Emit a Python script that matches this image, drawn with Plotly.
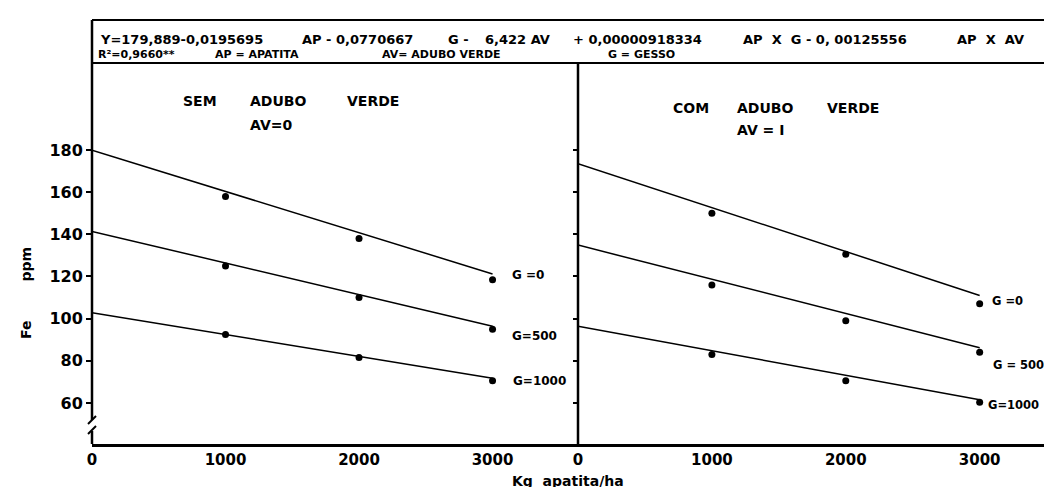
import plotly.graph_objects as go

W, H = 1052, 487
L, R, T, B = 84, 0, 12, 51

# apatita doses (kg/ha)
ap = [1000, 2000, 3000]
ap_line = [0, 3000]
x_ticks = [0, 1000, 2000, 3000]
y_ticks = [60, 80, 100, 120, 140, 160, 180]

# sem adubo verde (AV = 0): observed points and fitted lines
sem_g0 = [158, 138, 118.5]
sem_g500 = [125, 110, 95]
sem_g1000 = [92.5, 81.5, 70.5]
sem_fit_g0 = [179.9, 121.2]
sem_fit_g500 = [141.4, 96.4]
sem_fit_g1000 = [102.8, 71.7]

# com adubo verde (AV = 1)
com_g0 = [150, 130.5, 107]
com_g500 = [116, 99, 84]
com_g1000 = [83, 70.5, 60.3]
com_fit_g0 = [173.5, 111.0]
com_fit_g500 = [134.9, 86.2]
com_fit_g1000 = [96.4, 61.5]

FONT = "DejaVu Sans"


def px(x, y):
    # pixel position -> paper coords
    return (x - L) / (W - L - R), (H - B - y) / (H - T - B)


def label(text, x, y, size=13, xanchor="left", **kw):
    xp, yp = px(x, y)
    return dict(text=text, x=xp, y=yp, xref="paper", yref="paper",
                xanchor=xanchor, yanchor="middle", showarrow=False,
                font=dict(family=FONT, size=size, color="black", weight="bold"), **kw)


def seg(x0, y0, x1, y1, w=2.5):
    a, b = px(x0, y0)
    c, d = px(x1, y1)
    return dict(type="line", xref="paper", yref="paper", x0=a, y0=b, x1=c, y1=d,
                line=dict(color="black", width=w))


fig = go.Figure()

panels = [
    ("x", "y", [sem_fit_g0, sem_fit_g500, sem_fit_g1000], [sem_g0, sem_g500, sem_g1000]),
    ("x2", "y2", [com_fit_g0, com_fit_g500, com_fit_g1000], [com_g0, com_g500, com_g1000]),
]
for xa, ya, fits, obs in panels:
    for fit in fits:
        fig.add_trace(go.Scatter(x=ap_line, y=fit, mode="lines", xaxis=xa, yaxis=ya,
                                 line=dict(color="black", width=1.5)))
    for o in obs:
        fig.add_trace(go.Scatter(x=ap, y=o, mode="markers", xaxis=xa, yaxis=ya,
                                 marker=dict(color="black", size=7)))

tickfont = dict(family=FONT, size=15, color="black", weight="bold")
xcommon = dict(range=[0, 3640], tickvals=x_ticks, showgrid=False, zeroline=False,
               showline=True, linecolor="black", linewidth=2.5, ticks="",
               tickfont=tickfont, automargin=False)
ycommon = dict(range=[40.5, 241.7], tickvals=y_ticks, showgrid=False, zeroline=False,
               showline=False, ticks="outside", ticklen=5, tickwidth=2, tickcolor="black",
               automargin=False)

fig.update_layout(
    width=W, height=H,
    margin=dict(l=L, r=R, t=T, b=B),
    plot_bgcolor="white", paper_bgcolor="white",
    showlegend=False, hovermode=False,
    xaxis=dict(domain=[0, px(570, 0)[0]], anchor="y", **xcommon),
    xaxis2=dict(domain=[px(570, 0)[0], 1], anchor="y2", **{**xcommon, "range": [0, 3600]}),
    yaxis=dict(anchor="x", tickfont=dict(family=FONT, size=16, color="black", weight="bold"),
               **ycommon),
    yaxis2=dict(anchor="x2", matches="y", showticklabels=False, **{**ycommon, "ticklen": 4}),
)

shapes = [
    seg(84, 12, 1052, 12, 2),
    seg(84, 55, 1052, 55, 2),
    seg(84, 12, 84, 412),
    seg(84, 423, 84, 436),
    seg(80, 416, 88, 408, 2),
    seg(80, 426, 88, 418, 2),
    seg(570, 55, 570, 436),
]
fig.update_layout(shapes=shapes)

annotations = [
    # regression header
    label("Y=179,889-0,0195695", 90, 32, 13),
    label("AP - 0,0770667", 292, 32, 13),
    label("G -", 438, 32, 13),
    label("6,422 AV", 475, 32, 13),
    label("+ 0,00000918334", 563, 32, 13),
    label("AP  X  G - 0, 00125556", 733, 32, 13),
    label("AP  X  AV", 947, 32, 13),
    label("R\u00b2=0,9660**", 88, 46, 11),
    label("AP = APATITA", 205, 46, 11),
    label("AV= ADUBO VERDE", 372, 46, 11),
    label("G = GESSO", 598, 46, 11),
    # panel titles
    label("SEM", 173, 93, 14),
    label("ADUBO", 240, 93, 14),
    label("VERDE", 337, 93, 14),
    label("AV=0", 240, 117, 14),
    label("COM", 663, 100, 14),
    label("ADUBO", 727, 100, 14),
    label("VERDE", 817, 100, 14),
    label("AV = I", 727, 122, 14),
    # G labels
    label("G =0", 502, 267, 12),
    label("G=500", 502, 328, 12),
    label("G=1000", 503, 373, 12),
    label("G =0", 982, 293, 11.5),
    label("G = 500", 983, 357, 11.5),
    label("G=1000", 978, 397, 11.5),
    # axis titles
    label("Fe        ppm", 18, 285, 14, xanchor="center", textangle=-90),
    label("Kg  apatita/ha", 560, 473, 14, xanchor="center"),
]
fig.update_layout(annotations=annotations)

fig.write_html("out.html")
